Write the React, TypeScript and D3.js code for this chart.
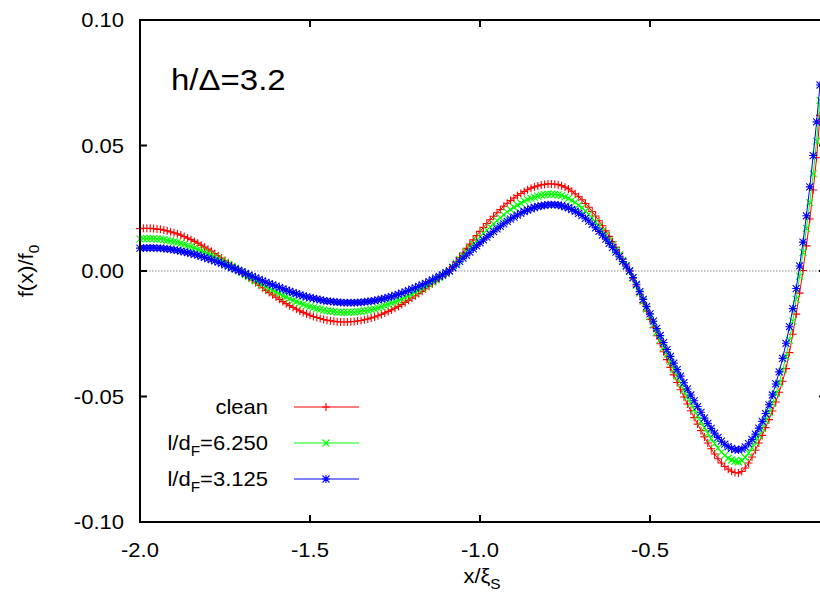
import { useEffect, useRef } from "react";
import * as d3 from "d3";

// x grid of the samples: -2.00 .. 0.00, step 0.01
const xStart = -2.0;
const xStep = 0.01;

const clean = [
  0.0169, 0.0170, 0.0170, 0.0170, 0.0169, 0.0167, 0.0166, 0.0163, 0.0160, 0.0156,
  0.0152, 0.0148, 0.0143, 0.0137, 0.0131, 0.0125, 0.0118, 0.0111, 0.0103, 0.0095,
  0.0087, 0.0079, 0.0070, 0.0061, 0.0052, 0.0042, 0.0033, 0.0023, 0.0014, 0.0004,
  -0.0006, -0.0017, -0.0027, -0.0037, -0.0047, -0.0057, -0.0067, -0.0077, -0.0086, -0.0095,
  -0.0104, -0.0113, -0.0122, -0.0130, -0.0138, -0.0145, -0.0152, -0.0159, -0.0165, -0.0171,
  -0.0176, -0.0181, -0.0185, -0.0189, -0.0193, -0.0196, -0.0198, -0.0200, -0.0202, -0.0203,
  -0.0203, -0.0203, -0.0202, -0.0201, -0.0199, -0.0197, -0.0194, -0.0191, -0.0187, -0.0183,
  -0.0178, -0.0173, -0.0167, -0.0161, -0.0155, -0.0148, -0.0141, -0.0133, -0.0125, -0.0117,
  -0.0108, -0.0099, -0.0090, -0.0081, -0.0071, -0.0061, -0.0051, -0.0041, -0.0031, -0.0021,
  -0.0010, 0.0000, 0.0018, 0.0036, 0.0054, 0.0072, 0.0090, 0.0107, 0.0124, 0.0141,
  0.0158, 0.0174, 0.0189, 0.0204, 0.0218, 0.0232, 0.0245, 0.0258, 0.0270, 0.0281,
  0.0291, 0.0301, 0.0309, 0.0317, 0.0324, 0.0330, 0.0335, 0.0339, 0.0343, 0.0345,
  0.0347, 0.0347, 0.0346, 0.0344, 0.0340, 0.0334, 0.0327, 0.0318, 0.0308, 0.0296,
  0.0284, 0.0269, 0.0254, 0.0237, 0.0219, 0.0200, 0.0180, 0.0160, 0.0138, 0.0117,
  0.0094, 0.0071, 0.0047, 0.0024, 0.0000, -0.0029, -0.0060, -0.0093, -0.0127, -0.0160,
  -0.0193, -0.0226, -0.0258, -0.0290, -0.0322, -0.0353, -0.0384, -0.0414, -0.0444, -0.0473,
  -0.0502, -0.0530, -0.0557, -0.0584, -0.0610, -0.0636, -0.0661, -0.0685, -0.0708, -0.0729,
  -0.0748, -0.0765, -0.0779, -0.0790, -0.0798, -0.0803, -0.0805, -0.0799, -0.0785, -0.0765,
  -0.0741, -0.0714, -0.0685, -0.0655, -0.0624, -0.0592, -0.0558, -0.0522, -0.0483, -0.0439,
  -0.0389, -0.0325, -0.0252, -0.0172, -0.0088, 0.0002, 0.0100, 0.0207, 0.0323, 0.0451,
  0.0620,
];

const ld6250 = [
  0.0128, 0.0129, 0.0129, 0.0129, 0.0129, 0.0127, 0.0127, 0.0125, 0.0122, 0.0120,
  0.0117, 0.0114, 0.0110, 0.0106, 0.0101, 0.0097, 0.0092, 0.0086, 0.0080, 0.0074,
  0.0068, 0.0062, 0.0055, 0.0048, 0.0041, 0.0033, 0.0026, 0.0018, 0.0011, 0.0003,
  -0.0005, -0.0014, -0.0022, -0.0030, -0.0038, -0.0046, -0.0054, -0.0062, -0.0069, -0.0076,
  -0.0083, -0.0090, -0.0098, -0.0104, -0.0111, -0.0117, -0.0122, -0.0128, -0.0133, -0.0138,
  -0.0142, -0.0146, -0.0150, -0.0153, -0.0156, -0.0159, -0.0160, -0.0162, -0.0164, -0.0164,
  -0.0165, -0.0165, -0.0164, -0.0164, -0.0162, -0.0161, -0.0159, -0.0157, -0.0154, -0.0151,
  -0.0147, -0.0143, -0.0138, -0.0133, -0.0128, -0.0123, -0.0117, -0.0111, -0.0104, -0.0098,
  -0.0091, -0.0083, -0.0076, -0.0068, -0.0060, -0.0052, -0.0043, -0.0035, -0.0026, -0.0018,
  -0.0009, 0.0000, 0.0015, 0.0031, 0.0046, 0.0061, 0.0077, 0.0092, 0.0107, 0.0121,
  0.0136, 0.0150, 0.0163, 0.0176, 0.0188, 0.0201, 0.0212, 0.0224, 0.0235, 0.0245,
  0.0254, 0.0263, 0.0270, 0.0278, 0.0284, 0.0290, 0.0294, 0.0298, 0.0302, 0.0304,
  0.0306, 0.0306, 0.0305, 0.0303, 0.0300, 0.0295, 0.0289, 0.0281, 0.0273, 0.0262,
  0.0252, 0.0239, 0.0226, 0.0211, 0.0195, 0.0178, 0.0160, 0.0143, 0.0123, 0.0105,
  0.0084, 0.0064, 0.0042, 0.0022, 0.0000, -0.0027, -0.0057, -0.0088, -0.0120, -0.0151,
  -0.0182, -0.0213, -0.0244, -0.0274, -0.0304, -0.0333, -0.0362, -0.0391, -0.0419, -0.0447,
  -0.0474, -0.0500, -0.0526, -0.0551, -0.0576, -0.0600, -0.0624, -0.0647, -0.0668, -0.0688,
  -0.0706, -0.0722, -0.0735, -0.0746, -0.0753, -0.0758, -0.0760, -0.0755, -0.0743, -0.0726,
  -0.0705, -0.0681, -0.0655, -0.0627, -0.0596, -0.0563, -0.0527, -0.0488, -0.0446, -0.0396,
  -0.0340, -0.0275, -0.0200, -0.0112, -0.0020, 0.0074, 0.0170, 0.0272, 0.0387, 0.0517,
  0.0680,
];

const ld3125 = [
  0.0091, 0.0092, 0.0092, 0.0092, 0.0092, 0.0091, 0.0091, 0.0089, 0.0088, 0.0086,
  0.0084, 0.0082, 0.0079, 0.0076, 0.0073, 0.0070, 0.0066, 0.0063, 0.0058, 0.0054,
  0.0049, 0.0045, 0.0040, 0.0035, 0.0030, 0.0024, 0.0019, 0.0013, 0.0008, 0.0002,
  -0.0003, -0.0010, -0.0016, -0.0021, -0.0027, -0.0033, -0.0039, -0.0045, -0.0050, -0.0055,
  -0.0060, -0.0066, -0.0071, -0.0076, -0.0081, -0.0086, -0.0090, -0.0095, -0.0099, -0.0103,
  -0.0106, -0.0109, -0.0112, -0.0115, -0.0118, -0.0120, -0.0121, -0.0123, -0.0124, -0.0125,
  -0.0126, -0.0126, -0.0126, -0.0126, -0.0125, -0.0125, -0.0123, -0.0122, -0.0120, -0.0118,
  -0.0115, -0.0112, -0.0109, -0.0105, -0.0102, -0.0097, -0.0093, -0.0088, -0.0083, -0.0078,
  -0.0072, -0.0067, -0.0061, -0.0055, -0.0049, -0.0042, -0.0035, -0.0028, -0.0021, -0.0015,
  -0.0007, 0.0000, 0.0013, 0.0025, 0.0038, 0.0051, 0.0063, 0.0075, 0.0088, 0.0100,
  0.0112, 0.0124, 0.0135, 0.0146, 0.0157, 0.0168, 0.0178, 0.0188, 0.0198, 0.0207,
  0.0215, 0.0223, 0.0230, 0.0237, 0.0243, 0.0248, 0.0253, 0.0257, 0.0260, 0.0262,
  0.0264, 0.0264, 0.0264, 0.0263, 0.0260, 0.0256, 0.0252, 0.0245, 0.0238, 0.0230,
  0.0221, 0.0210, 0.0199, 0.0186, 0.0172, 0.0158, 0.0143, 0.0127, 0.0110, 0.0094,
  0.0075, 0.0057, 0.0038, 0.0019, 0.0000, -0.0026, -0.0053, -0.0082, -0.0113, -0.0142,
  -0.0171, -0.0200, -0.0229, -0.0257, -0.0285, -0.0313, -0.0340, -0.0367, -0.0393, -0.0419,
  -0.0445, -0.0470, -0.0494, -0.0517, -0.0540, -0.0563, -0.0586, -0.0607, -0.0627, -0.0646,
  -0.0663, -0.0678, -0.0690, -0.0700, -0.0707, -0.0712, -0.0713, -0.0710, -0.0701, -0.0688,
  -0.0671, -0.0650, -0.0626, -0.0599, -0.0568, -0.0533, -0.0494, -0.0450, -0.0402, -0.0348,
  -0.0288, -0.0222, -0.0150, -0.0070, 0.0020, 0.0115, 0.0220, 0.0335, 0.0460, 0.0594,
  0.0741,
];

const xTicks = [-2.0, -1.5, -1.0, -0.5];
const yTicks = [-0.1, -0.05, 0.0, 0.05, 0.1];

const series = [
  { label: "clean", sub: null, rest: null, values: clean, color: "#ff0000", marker: "plus" },
  { label: "l/d", sub: "F", rest: "=6.250", values: ld6250, color: "#00ff00", marker: "cross" },
  { label: "l/d", sub: "F", rest: "=3.125", values: ld3125, color: "#0000ff", marker: "star" },
];

const FONT = "'Liberation Sans', Arial, Helvetica, sans-serif";
const STRETCH = 1.1; // the reference lettering is a little wider than Arial

function markerPath(kind: string, cx: number, cy: number) {
  const p = 4;
  const c = 3.5;
  const plus = `M${cx - p},${cy}H${cx + p}M${cx},${cy - p}V${cy + p}`;
  const cross = `M${cx - c},${cy - c}L${cx + c},${cy + c}M${cx - c},${cy + c}L${cx + c},${cy - c}`;
  if (kind === "plus") return plus;
  if (kind === "cross") return cross;
  return plus + cross;
}

export default function App() {
  const ref = useRef<SVGSVGElement>(null);

  useEffect(() => {
    const svg = d3.select(ref.current);
    svg.selectAll("*").remove();

    const left = 140;
    const right = 826; // right frame sits just outside the picture
    const top = 20;
    const bottom = 522;

    const x = d3.scaleLinear().domain([-2, 0]).range([left, 820]);
    const y = d3.scaleLinear().domain([-0.1, 0.1]).range([bottom, top]);

    svg.append("rect").attr("width", 820).attr("height", 602).attr("fill", "#fff");

    // zero axis
    svg
      .append("line")
      .attr("x1", left)
      .attr("x2", 820)
      .attr("y1", y(0))
      .attr("y2", y(0))
      .attr("stroke", "#8a8a8a")
      .attr("stroke-width", 1)
      .attr("stroke-dasharray", "1.5,1.5");

    const lineGen = d3
      .line<number>()
      .x((_, i) => x(xStart + i * xStep))
      .y((d) => y(d));

    series.forEach((s) => {
      const g = svg.append("g");
      g.append("path")
        .datum(s.values)
        .attr("fill", "none")
        .attr("stroke", s.color)
        .attr("stroke-width", 1)
        .attr("d", lineGen);
      g.append("path")
        .attr("fill", "none")
        .attr("stroke", s.color)
        .attr("stroke-width", 1.1)
        .attr(
          "d",
          s.values.map((v, i) => markerPath(s.marker, x(xStart + i * xStep), y(v))).join("")
        );
    });

    // frame
    const frame = svg.append("g").attr("stroke", "#000").attr("stroke-width", 2).attr("fill", "none");
    frame.append("path").attr("d", `M${right},${top}H${left}V${bottom}H${right}`);
    frame.append("line").attr("x1", right).attr("x2", right).attr("y1", top).attr("y2", bottom);

    yTicks.forEach((t) => {
      frame.append("line").attr("x1", left).attr("x2", left + 7).attr("y1", y(t)).attr("y2", y(t));
      frame.append("line").attr("x1", right - 7).attr("x2", right).attr("y1", y(t)).attr("y2", y(t));
    });
    xTicks.forEach((t) => {
      frame.append("line").attr("x1", x(t)).attr("x2", x(t)).attr("y1", bottom).attr("y2", bottom - 7);
      frame.append("line").attr("x1", x(t)).attr("x2", x(t)).attr("y1", top).attr("y2", top + 7);
    });

    const txt = svg.append("g").attr("font-family", FONT).attr("fill", "#000");
    const place = (px: number, py: number, extra = "") =>
      `translate(${px},${py})${extra} scale(${STRETCH},1)`;

    yTicks.forEach((t) => {
      txt
        .append("text")
        .attr("transform", place(124, y(t) + 7))
        .attr("text-anchor", "end")
        .attr("font-size", 20)
        .text(t.toFixed(2));
    });
    xTicks.forEach((t) => {
      txt
        .append("text")
        .attr("transform", place(x(t), 557))
        .attr("text-anchor", "middle")
        .attr("font-size", 20)
        .text(t.toFixed(1));
    });

    // axis titles
    const xl = txt
      .append("text")
      .attr("transform", place(482, 583))
      .attr("text-anchor", "middle")
      .attr("font-size", 20);
    xl.append("tspan").text("x/ξ");
    xl.append("tspan").attr("font-size", 14).attr("dy", 6).text("S");

    const yl = txt
      .append("text")
      .attr("transform", `translate(33,271) rotate(-90) scale(${STRETCH},1)`)
      .attr("text-anchor", "middle")
      .attr("font-size", 20);
    yl.append("tspan").text("f(x)/f");
    yl.append("tspan").attr("font-size", 14).attr("dy", 6).text("0");

    txt
      .append("text")
      .attr("transform", place(171, 90))
      .attr("font-size", 30)
      .text("h/Δ=3.2");

    // legend
    const rows = [407, 443, 479];
    series.forEach((s, i) => {
      const ry = rows[i];
      const t = txt
        .append("text")
        .attr("transform", place(268, ry + 7))
        .attr("text-anchor", "end")
        .attr("font-size", 20);
      t.append("tspan").text(s.label);
      if (s.sub) {
        t.append("tspan").attr("font-size", 14).attr("dy", 6).text(s.sub);
        t.append("tspan").attr("dy", -6).text(s.rest);
      }
      svg
        .append("line")
        .attr("x1", 294)
        .attr("x2", 359)
        .attr("y1", ry)
        .attr("y2", ry)
        .attr("stroke", s.color)
        .attr("stroke-width", 1);
      svg
        .append("path")
        .attr("d", markerPath(s.marker, 326, ry))
        .attr("fill", "none")
        .attr("stroke", s.color)
        .attr("stroke-width", 1.1);
    });
  }, []);

  return (
    <svg
      ref={ref}
      width={820}
      height={602}
      style={{ position: "absolute", left: 0, top: 0, overflow: "hidden" }}
    />
  );
}
